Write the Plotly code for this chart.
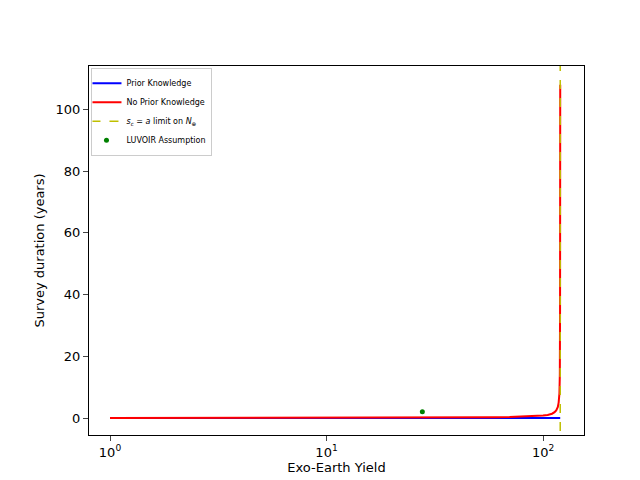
import plotly.graph_objects as go

yield_vals = [1, 2, 5, 10, 20, 30, 40, 50, 60, 70, 80, 90, 100, 105, 110, 113, 115, 117, 118, 119, 119.5, 119.8, 120]
prior_dur = [0.0, 0.0, 0.0, 0.0, 0.0, 0.0, 0.0, 0.0, 0.0, 0.0, 0.0, 0.0, 0.0, 0.0, 0.0, 0.0, 0.0, 0.0, 0.0, 0.0, 0.0, 0.0, 0.0]
noprior_dur = [0.0, 0.0, 0.0, 0.0, 0.02, 0.05, 0.1, 0.15, 0.22, 0.3, 0.4, 0.55, 0.8, 1.0, 1.4, 1.9, 2.5, 3.6, 5.0, 8.0, 14.0, 35.0, 108.0]
limit_x = 120
luvoir_x = [27.7]
luvoir_y = [2.0]

fig = go.Figure()
fig.add_trace(go.Scatter(x=yield_vals, y=prior_dur, mode='lines', name='Prior Knowledge',
                         line=dict(color='blue', width=2)))
fig.add_trace(go.Scatter(x=yield_vals, y=noprior_dur, mode='lines', name='No Prior Knowledge',
                         line=dict(color='red', width=2)))
fig.add_trace(go.Scatter(x=[limit_x, limit_x], y=[-10, 130], mode='lines',
                         name='<i>s<sub>c</sub></i> = <i>a</i> limit on <i>N</i><sub>⊕</sub>',
                         line=dict(color='#bfbf00', width=1.5, dash='dash')))
fig.add_trace(go.Scatter(x=luvoir_x, y=luvoir_y, mode='markers', name='LUVOIR Assumption',
                         marker=dict(color='green', size=5)))

axis_style = dict(showline=True, linecolor='black', mirror=True, ticks='outside',
                  showgrid=False, zeroline=False, tickfont=dict(size=13), automargin=False)
fig.update_layout(
    width=640, height=480,
    margin=dict(l=81, r=64, t=58, b=53),
    plot_bgcolor='white', paper_bgcolor='white',
    font=dict(family='DejaVu Sans', color='black'),
    xaxis=dict(type='log', range=[-0.097, 2.189],
               title=dict(text='Exo-Earth Yield', font=dict(size=13), standoff=4),
               tickvals=[1, 10, 100], ticktext=['10<sup>0</sup>', '10<sup>1</sup>', '10<sup>2</sup>'], **axis_style),
    yaxis=dict(range=[-5.5, 114.1],
               title=dict(text='Survey duration (years)', font=dict(size=13), standoff=8),
               tickvals=[0, 20, 40, 60, 80, 100], **axis_style),
    legend=dict(x=0.005, y=0.995, xanchor='left', yanchor='top', font=dict(size=8),
                bordercolor='#cccccc', borderwidth=1, bgcolor='white', tracegroupgap=0,
                itemwidth=30, indentation=-6),
)
fig.write_html("out.html")
